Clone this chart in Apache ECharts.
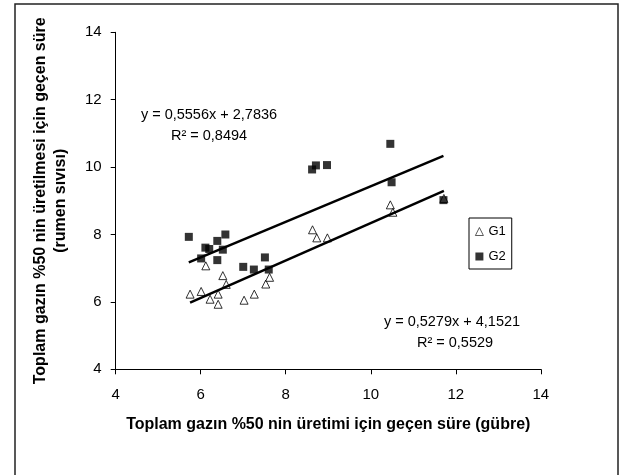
<!DOCTYPE html>
<html>
<head>
<meta charset="utf-8">
<script src="https://cdn.jsdelivr.net/npm/echarts@6/dist/echarts.min.js"></script>
<style>
  html, body { margin: 0; padding: 0; background: #fff; }
  #chart { width: 625px; height: 475px; }
</style>
</head>
<body>
<div id="chart"></div>
<script>
// Observed times (x: manure, y: rumen fluid) for the two groups
const g1X = [5.75, 6.01, 6.12, 6.22, 6.41, 6.41, 6.52, 6.60, 7.02, 7.26, 7.53, 7.62, 8.63, 8.73, 8.98, 10.46, 10.52, 11.72];
const g1Y = [6.23, 6.31, 7.07, 6.08, 6.23, 5.93, 6.78, 6.52, 6.05, 6.23, 6.53, 6.73, 8.14, 7.90, 7.90, 8.88, 8.66, 9.07];
const g2X = [5.72, 6.01, 6.11, 6.20, 6.39, 6.39, 6.52, 6.58, 7.00, 7.25, 7.51, 7.60, 8.62, 8.71, 8.97, 10.46, 10.49, 11.71];
const g2Y = [7.93, 7.29, 7.61, 7.57, 7.81, 7.24, 7.55, 8.00, 7.04, 6.96, 7.32, 6.96, 9.93, 10.05, 10.06, 10.69, 9.55, 9.02];

// Linear trend coefficients [slope, intercept] and R²
const g1Fit = [0.5556, 2.7836];
const g1R2 = 0.8494;
const g2Fit = [0.5279, 4.1521];
const g2R2 = 0.5529;

const seriesNames = ['G1', 'G2'];
const axisTicks = [4, 6, 8, 10, 12, 14];

const xTitle = 'Toplam gazın %50 nin üretimi için geçen süre (gübre)';
const yTitle = 'Toplam gazın %50 nin üretilmesi için geçen süre\n(rumen sıvısı)';

const FONT = '"Liberation Sans", Arial, Helvetica, sans-serif';

function pairs(xs, ys) { return xs.map((x, i) => [x, ys[i]]); }
function trend(xs, fit) {
  const lo = Math.min(...xs), hi = Math.max(...xs);
  return [[lo, fit[0] * lo + fit[1]], [hi, fit[0] * hi + fit[1]]];
}
function fmt(v, d) { return v.toFixed(d).replace('.', ','); }
function eqText(fit) { return 'y = ' + fmt(fit[0], 4) + 'x + ' + fmt(fit[1], 4); }
function r2Text(r) { return 'R² = ' + fmt(r, 4); }

const chart = echarts.init(document.getElementById('chart'), null, { renderer: 'canvas' });

const axisCommon = {
  type: 'value',
  min: axisTicks[0],
  max: axisTicks[axisTicks.length - 1],
  interval: 2,
  splitLine: { show: false },
  axisLine: { show: true, onZero: false, lineStyle: { color: '#000', width: 1 } },
  axisTick: { show: true, inside: false, length: 5, lineStyle: { color: '#000' } },
  axisLabel: { color: '#000', fontSize: 15, fontFamily: FONT },
  nameTextStyle: { color: '#000', fontSize: 16, fontWeight: 'bold', fontFamily: FONT }
};

const eqFont = '14.5px ' + FONT;

const option = {
  animation: false,
  backgroundColor: '#fff',
  grid: { left: 115.7, right: 84.2, top: 32.3, bottom: 105.7, containLabel: false },
  xAxis: Object.assign({}, axisCommon, {
    name: xTitle,
    nameLocation: 'middle',
    nameGap: 47,
    axisLabel: Object.assign({}, axisCommon.axisLabel, { margin: 18 })
  }),
  yAxis: Object.assign({}, axisCommon, {
    name: yTitle,
    nameLocation: 'middle',
    nameRotate: 90,
    nameGap: 45,
    nameTextStyle: Object.assign({}, axisCommon.nameTextStyle, { lineHeight: 20 }),
    axisLabel: Object.assign({}, axisCommon.axisLabel, { margin: 14 })
  }),
  legend: {
    data: [
      { name: seriesNames[0], itemStyle: { color: '#fff', borderColor: '#000', borderWidth: 0.8 } },
      { name: seriesNames[1] }
    ],
    orient: 'vertical',
    left: 469,
    top: 218,
    itemWidth: 8,
    itemHeight: 8,
    itemGap: 12,
    padding: [7, 6, 6, 6],
    borderColor: '#000',
    borderWidth: 1,
    borderRadius: 0,
    textStyle: { color: '#000', fontSize: 13, fontFamily: FONT, padding: [0, 0, 0, 0] }
  },
  graphic: [
    {
      type: 'rect', silent: true, z: -10,
      shape: { x: 15, y: 4, width: 603, height: 490 },
      style: { fill: 'none', stroke: '#222', lineWidth: 1.5 }
    },
    {
      type: 'text', x: 209, y: 115, silent: true,
      style: { text: eqText(g1Fit), fill: '#000', font: eqFont, textAlign: 'center', textVerticalAlign: 'middle' }
    },
    {
      type: 'text', x: 209, y: 136, silent: true,
      style: { text: r2Text(g1R2), fill: '#000', font: eqFont, textAlign: 'center', textVerticalAlign: 'middle' }
    },
    {
      type: 'text', x: 452, y: 322, silent: true,
      style: { text: eqText(g2Fit), fill: '#000', font: eqFont, textAlign: 'center', textVerticalAlign: 'middle' }
    },
    {
      type: 'text', x: 455, y: 343, silent: true,
      style: { text: r2Text(g2R2), fill: '#000', font: eqFont, textAlign: 'center', textVerticalAlign: 'middle' }
    }
  ],
  series: [
    {
      name: seriesNames[0],
      type: 'scatter',
      symbol: 'triangle',
      symbolSize: [8, 8],
      itemStyle: { color: '#fff', borderColor: '#000', borderWidth: 1 },
      data: pairs(g1X, g1Y),
      z: 3
    },
    {
      name: seriesNames[1],
      type: 'scatter',
      symbol: 'rect',
      symbolSize: 8,
      itemStyle: { color: '#000' },
      data: pairs(g2X, g2Y),
      z: 3
    },
    {
      name: 'G1 trend',
      type: 'line',
      showSymbol: false,
      symbol: 'none',
      silent: true,
      lineStyle: { color: '#000', width: 2.5 },
      data: trend(g1X, g1Fit),
      z: 4
    },
    {
      name: 'G2 trend',
      type: 'line',
      showSymbol: false,
      symbol: 'none',
      silent: true,
      lineStyle: { color: '#000', width: 2.5 },
      data: trend(g2X, g2Fit),
      z: 4
    }
  ]
};

chart.setOption(option);
</script>
</body>
</html>
